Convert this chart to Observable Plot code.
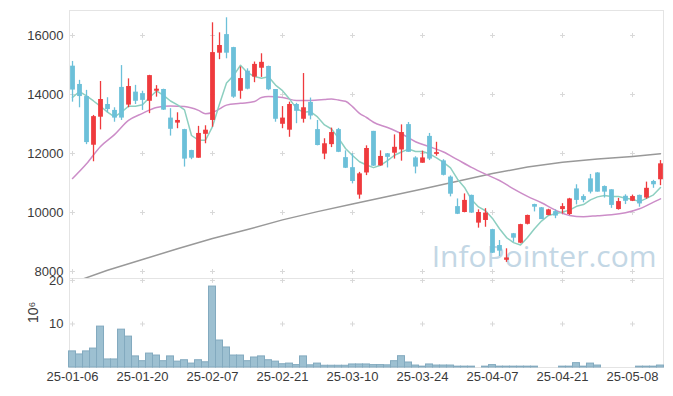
<!DOCTYPE html>
<html>
<head>
<meta charset="utf-8">
<script src="https://cdn.jsdelivr.net/npm/d3@7"></script>
<script src="https://cdn.jsdelivr.net/npm/@observablehq/plot@0.6"></script>
<style>
  html, body { margin: 0; padding: 0; background: #fff; }
  #chart svg { display: block; overflow: visible; }
</style>
</head>
<body>
<div id="chart"></div>
<script>
// Trading days (Korea), 2025
const dates = ["25-01-06","25-01-07","25-01-08","25-01-09","25-01-10","25-01-13","25-01-14","25-01-15","25-01-16","25-01-17",
  "25-01-20","25-01-21","25-01-22","25-01-23","25-01-24","25-01-31","25-02-03","25-02-04","25-02-05","25-02-06",
  "25-02-07","25-02-10","25-02-11","25-02-12","25-02-13","25-02-14","25-02-17","25-02-18","25-02-19","25-02-20",
  "25-02-21","25-02-24","25-02-25","25-02-26","25-02-27","25-02-28","25-03-04","25-03-05","25-03-06","25-03-07",
  "25-03-10","25-03-11","25-03-12","25-03-13","25-03-14","25-03-17","25-03-18","25-03-19","25-03-20","25-03-21",
  "25-03-24","25-03-25","25-03-26","25-03-27","25-03-28","25-03-31","25-04-01","25-04-02","25-04-03","25-04-04",
  "25-04-07","25-04-08","25-04-09","25-04-10","25-04-11","25-04-14","25-04-15","25-04-16","25-04-17","25-04-18",
  "25-04-21","25-04-22","25-04-23","25-04-24","25-04-25","25-04-28","25-04-29","25-04-30","25-05-02","25-05-07",
  "25-05-08","25-05-09","25-05-12","25-05-13","25-05-14"];

const open  = [14960,14340,13930,12280,13230,13660,13460,14240,13640,14080,14030,13770,14110,14170,13200,13030,12810,12100,11840,12650,
  13120,15400,16030,15590,14110,14790,14590,14890,14950,14170,12990,12790,13660,13160,13730,12810,11980,12300,12810,11860,
  11520,10590,11340,12750,11580,11990,12010,12120,12980,11850,11670,12580,11970,11750,11200,10200,10000,10580,9640,9730,
  9420,8880,8380,9280,8960,9600,10270,10160,9900,10030,10100,9930,10800,10540,11140,11340,10880,10770,10100,10550,
  10380,10580,10490,11050,11110];
const high  = [15120,14480,14140,13290,14440,13890,13550,14980,14530,14310,14110,14650,14300,14180,13520,13380,12820,12110,12920,12940,
  16430,16090,16600,15600,14930,14870,15100,15380,14960,14170,13590,13740,13700,14710,13880,13120,12500,12860,12850,12090,
  11990,11360,12260,12750,12090,12000,12630,12970,13050,11890,12080,12680,12380,11790,11240,10460,10630,10590,10090,10130,
  9430,9050,8770,9290,9600,9910,10280,10170,10110,10090,10300,10480,10940,10600,11290,11350,10900,10770,10480,10600,
  10590,10590,11030,11090,11760];
const low   = [13740,13550,12300,11720,12800,13380,13060,13120,13550,13660,13460,13350,13910,13460,12590,12840,11540,11790,11840,12330,
  12890,15180,15210,13870,13840,14160,14400,14580,14130,13060,12840,12550,13010,13030,13140,12260,11790,12200,12030,11490,
  10970,10450,11250,11560,11570,11510,11810,11740,12040,11310,11670,11760,11910,11240,10530,9930,9990,9970,9470,9500,
  8610,8510,8310,8990,8940,9580,10020,9760,9890,9790,9950,9900,10260,10330,10630,10690,10490,10140,10080,10270,
  10370,10180,10450,10820,10910];
const close = [14150,13930,12370,13250,13830,13490,13200,13200,14270,13770,13800,14640,14180,13470,12820,13120,11810,11840,12680,12790,
  15420,15660,15400,13910,14540,14180,15020,15090,14160,13160,13200,13660,13430,13550,13270,12270,12330,12710,12040,11500,
  11050,11310,12170,11570,11900,11870,12210,12710,12040,11540,11850,11810,12030,11260,10620,9940,10410,9980,10000,9980,
  8620,8690,8460,9130,9590,9900,10180,9760,10090,9880,10200,10460,10410,10410,10690,10690,10690,10240,10370,10380,
  10540,10290,10820,10940,11650];
// volume, millions of shares
const volume = [3.7,3.0,3.7,4.35,9.4,1.85,1.85,8.7,7.1,2.55,1.45,3.2,2.75,1.45,2.55,1.35,1.67,0.9,1.67,1.2,
  18.6,6.2,4.6,2.75,2.75,1.45,2.3,2.55,1.67,1.35,0.75,0.9,0.55,2.55,0.5,0.9,0.4,0.4,0.4,0.4,
  0.7,0.7,0.7,0.55,0.55,0.5,1.45,2.6,1.15,0.45,0.2,0.7,0.45,0.45,0.45,0.2,0.2,0.2,0,0.2,
  0.55,0.2,0.2,0.2,0.2,0.2,0.2,0,0,0,0.2,0.2,1.0,0.2,0.9,0.45,0,0,0,0,
  0,0.2,0.2,0.2,0.45];
// moving averages
const ma5 = [13900,14100,13950,13780,13600,13400,13240,13400,13600,13600,13650,13900,14120,13970,13780,13650,13480,12610,12450,12450,
  12910,13680,14390,14640,14990,14740,14610,14550,14600,14320,14130,13850,13520,13400,13420,13240,12970,12830,12520,12170,
  11930,11720,11610,11520,11600,11760,11940,12050,12150,12070,12070,11990,11850,11700,11510,11130,10850,10440,10190,10060,
  9800,9450,9150,8980,8900,9150,9450,9710,9900,9960,10020,10080,10210,10270,10430,10530,10580,10540,10540,10480,
  10450,10370,10480,10600,10850];
const ma20Idx = [0,2,4,6,8,10,12,14,16,18,19,20,21,22,24,26,27,28,30,32,34,36,37,38,39,40,41,42,43,45,47,49,51,53,55,57,59,61,63,65,67,69,71,73,75,77,79,81,83,84];
const ma20 = [11150,11650,12240,12640,13120,13360,13560,13610,13590,13460,13350,13390,13510,13640,13700,13760,13900,13930,13900,13800,13800,13830,13850,13810,13770,13590,13360,13220,13060,12880,12670,12400,12230,12050,11790,11530,11300,11085,10800,10545,10330,10080,9900,9860,9890,9920,9990,10125,10350,10464];
const ma120Idx = [0,5,10,15,20,25,30,35,40,45,50,55,60,65,70,75,80,84];
const ma120 = [7620,8044,8406,8772,9118,9423,9750,10030,10290,10540,10800,11060,11320,11540,11700,11810,11900,11990];

const priceTicks = [8000,10000,12000,14000,16000];
const volTicks = [10,20];
const tickIdx = [0,10,20,30,40,50,60,70,80];

const RED = "#ef3a3d", BLUE = "#6cc0d9";
const candles = dates.map((d, i) => ({i, date: d, open: open[i], high: high[i], low: low[i], close: close[i]}));
const candleColor = d => d.close >= d.open ? RED : BLUE;
const vols = volume.map((v, i) => ({i, v})).filter(d => d.v > 0);
const line5 = ma5.map((v, i) => ({i, v}));
const line20 = ma20.map((v, k) => ({i: ma20Idx[k], v}));
const line120 = ma120.map((v, k) => ({i: ma120Idx[k], v}));

const xDomain = [-0.43, 84.43];
const font = {fontFamily: "'Liberation Sans', Arial, sans-serif", fontSize: "13px", color: "#3a3a3a", background: "transparent", overflow: "visible"};

const main = Plot.plot({
  width: 673, height: 278,
  marginLeft: 69, marginRight: 10, marginTop: 10, marginBottom: 0,
  style: font,
  x: {domain: xDomain, axis: null},
  y: {domain: [7763, 16847], ticks: priceTicks, tickSize: 0, tickPadding: 6, label: null, tickFormat: d => String(d)},
  marks: [
    Plot.frame({stroke: "#e4e4e4"}),
    Plot.dot(d3.cross(tickIdx, priceTicks), {x: d => d[0], y: d => d[1], symbol: "plus", r: 1.7, stroke: "#d8d8d8", strokeWidth: 1}),
    Plot.text(["InfoPointer.com"], {text: d => d, frameAnchor: "bottom-right", textAnchor: "end", lineAnchor: "bottom",
      dx: -7, dy: -12, fontSize: 30, fill: "#c3d7e5", fontFamily: "'Open Sans', sans-serif"}),
    Plot.line(line120, {x: "i", y: "v", stroke: "#999999", strokeWidth: 1.5, clip: true}),
    Plot.line(line20, {x: "i", y: "v", stroke: "#cc8dc8", strokeWidth: 1.5, curve: "monotone-x"}),
    Plot.line(line5, {x: "i", y: "v", stroke: "#8dcfc0", strokeWidth: 1.5}),
    Plot.ruleX(candles, {x: "i", y1: "low", y2: "high", stroke: candleColor, strokeWidth: 1.3}),
    Plot.ruleX(candles, {x: "i", y1: "open", y2: "close", stroke: candleColor, strokeWidth: 4.8})
  ]
});

const vol = Plot.plot({
  width: 673, height: 118,
  marginLeft: 69, marginRight: 10, marginTop: 0, marginBottom: 29,
  style: font,
  x: {domain: xDomain, ticks: tickIdx, tickFormat: i => dates[i], tickSize: 0, tickPadding: 4, label: null},
  y: {domain: [0, 20.45], ticks: volTicks, tickSize: 0, tickPadding: 6, label: null},
  marks: [
    Plot.frame({stroke: "#e4e4e4"}),
    Plot.dot(d3.cross(tickIdx, volTicks), {x: d => d[0], y: d => d[1], symbol: "plus", r: 1.7, stroke: "#d8d8d8", strokeWidth: 1}),
    Plot.rectY(vols, {x1: d => d.i - 0.5, x2: d => d.i + 0.5, y: "v", fill: "#9dc0d1", stroke: "#83aabf", strokeWidth: 1}),
    Plot.text(["10⁶"], {text: d => d, frameAnchor: "left", dx: -36, rotate: -90, fontSize: 14, fill: "#3a3a3a"})
  ]
});

const root = document.getElementById("chart");
root.appendChild(main);
root.appendChild(vol);
</script>
</body>
</html>
